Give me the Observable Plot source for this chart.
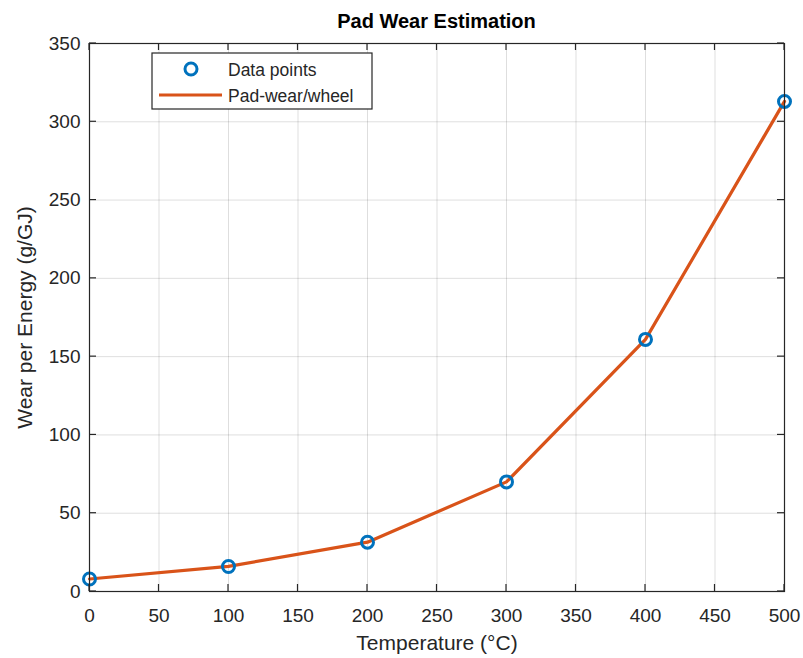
<!DOCTYPE html>
<html>
<head>
<meta charset="utf-8">
<script src="https://cdn.jsdelivr.net/npm/d3@7"></script>
<script src="https://cdn.jsdelivr.net/npm/@observablehq/plot@0.6"></script>
<style>
  html, body { margin: 0; padding: 0; background: #fff; }
  svg { display: block; }
</style>
</head>
<body>
<div id="chart"></div>
<script>
const temps = [0, 100, 200, 300, 400, 500];
const wear = [8, 16, 31.5, 70, 161, 313];
const xTicks = [0, 50, 100, 150, 200, 250, 300, 350, 400, 450, 500];
const yTicks = [0, 50, 100, 150, 200, 250, 300, 350];
const titleText = "Pad Wear Estimation";
const xLabel = "Temperature (°C)";
const yLabel = "Wear per Energy (g/GJ)";
const legendLabels = ["Data points", "Pad-wear/wheel"];

const data = temps.map((t, i) => ({t, w: wear[i]}));
const FONT = "'Liberation Sans', Arial, Helvetica, sans-serif";
const TXT = "#262626";
const BLUE = "#0072BD";
const ORANGE = "#D95319";

const chart = Plot.plot({
  width: 803,
  height: 658,
  marginLeft: 89,
  marginRight: 19,
  marginTop: 43,
  marginBottom: 67,
  style: {fontFamily: FONT, color: TXT, background: "#fff"},
  x: {domain: [0, 500]},
  y: {domain: [0, 350]},
  marks: [
    Plot.gridX(xTicks, {stroke: "#000", strokeOpacity: 0.13, strokeWidth: 1}),
    Plot.gridY(yTicks, {stroke: "#000", strokeOpacity: 0.13, strokeWidth: 1}),
    Plot.axisX(xTicks, {tickSize: 0, tickPadding: 17, fontSize: 19, fill: TXT,
      label: xLabel, labelAnchor: "center", labelArrow: "none", labelOffset: 58}),
    Plot.axisY(yTicks, {tickSize: 0, tickPadding: 9, fontSize: 19, fill: TXT,
      label: yLabel, labelAnchor: "center", labelArrow: "none", labelOffset: 72}),
    Plot.line(data, {x: "t", y: "w", stroke: ORANGE, strokeWidth: 3.2, curve: "linear"}),
    Plot.dot(data, {x: "t", y: "w", r: 6, stroke: BLUE, strokeWidth: 3, fill: "none"}),
    Plot.frame({stroke: TXT, strokeWidth: 1.2})
  ]
});

document.getElementById("chart").appendChild(chart);

d3.select(chart).selectAll("g[aria-label='x-axis label'] text, g[aria-label='y-axis label'] text")
  .style("font-size", "21px").attr("fill", TXT);

const sx = chart.scale("x"), sy = chart.scale("y");
const svg = d3.select(chart);
const x0 = sx.apply(0), x1 = sx.apply(500), y0 = sy.apply(0), y1 = sy.apply(350);
const TL = 7;
const tg = svg.append("g").attr("stroke", TXT).attr("stroke-width", 1.2);
xTicks.forEach(v => {
  const px = sx.apply(v);
  tg.append("line").attr("x1", px).attr("x2", px).attr("y1", y0).attr("y2", y0 - TL);
  tg.append("line").attr("x1", px).attr("x2", px).attr("y1", y1).attr("y2", y1 + TL);
});
yTicks.forEach(v => {
  const py = sy.apply(v);
  tg.append("line").attr("x1", x0).attr("x2", x0 + TL).attr("y1", py).attr("y2", py);
  tg.append("line").attr("x1", x1).attr("x2", x1 - TL).attr("y1", py).attr("y2", py);
});

svg.append("text").text(titleText)
  .attr("x", (x0 + x1) / 2).attr("y", 28)
  .attr("text-anchor", "middle")
  .attr("font-family", FONT).attr("font-size", 20).attr("font-weight", "bold")
  .attr("fill", "#000");

const lg = svg.append("g").attr("text-anchor", "start");
lg.append("rect").attr("x", 152).attr("y", 53).attr("width", 220).attr("height", 56)
  .attr("fill", "#fff").attr("stroke", TXT).attr("stroke-width", 1.2);
lg.append("circle").attr("cx", 191).attr("cy", 69).attr("r", 6)
  .attr("fill", "none").attr("stroke", BLUE).attr("stroke-width", 3);
lg.append("line").attr("x1", 159).attr("x2", 222).attr("y1", 95).attr("y2", 95)
  .attr("stroke", ORANGE).attr("stroke-width", 3.2);
lg.append("text").text(legendLabels[0]).attr("x", 228).attr("y", 76)
  .attr("text-anchor", "start")
  .attr("font-family", FONT).attr("font-size", 17.5).attr("fill", TXT);
lg.append("text").text(legendLabels[1]).attr("x", 228).attr("y", 102)
  .attr("text-anchor", "start")
  .attr("font-family", FONT).attr("font-size", 17.5).attr("fill", TXT);
</script>
</body>
</html>
